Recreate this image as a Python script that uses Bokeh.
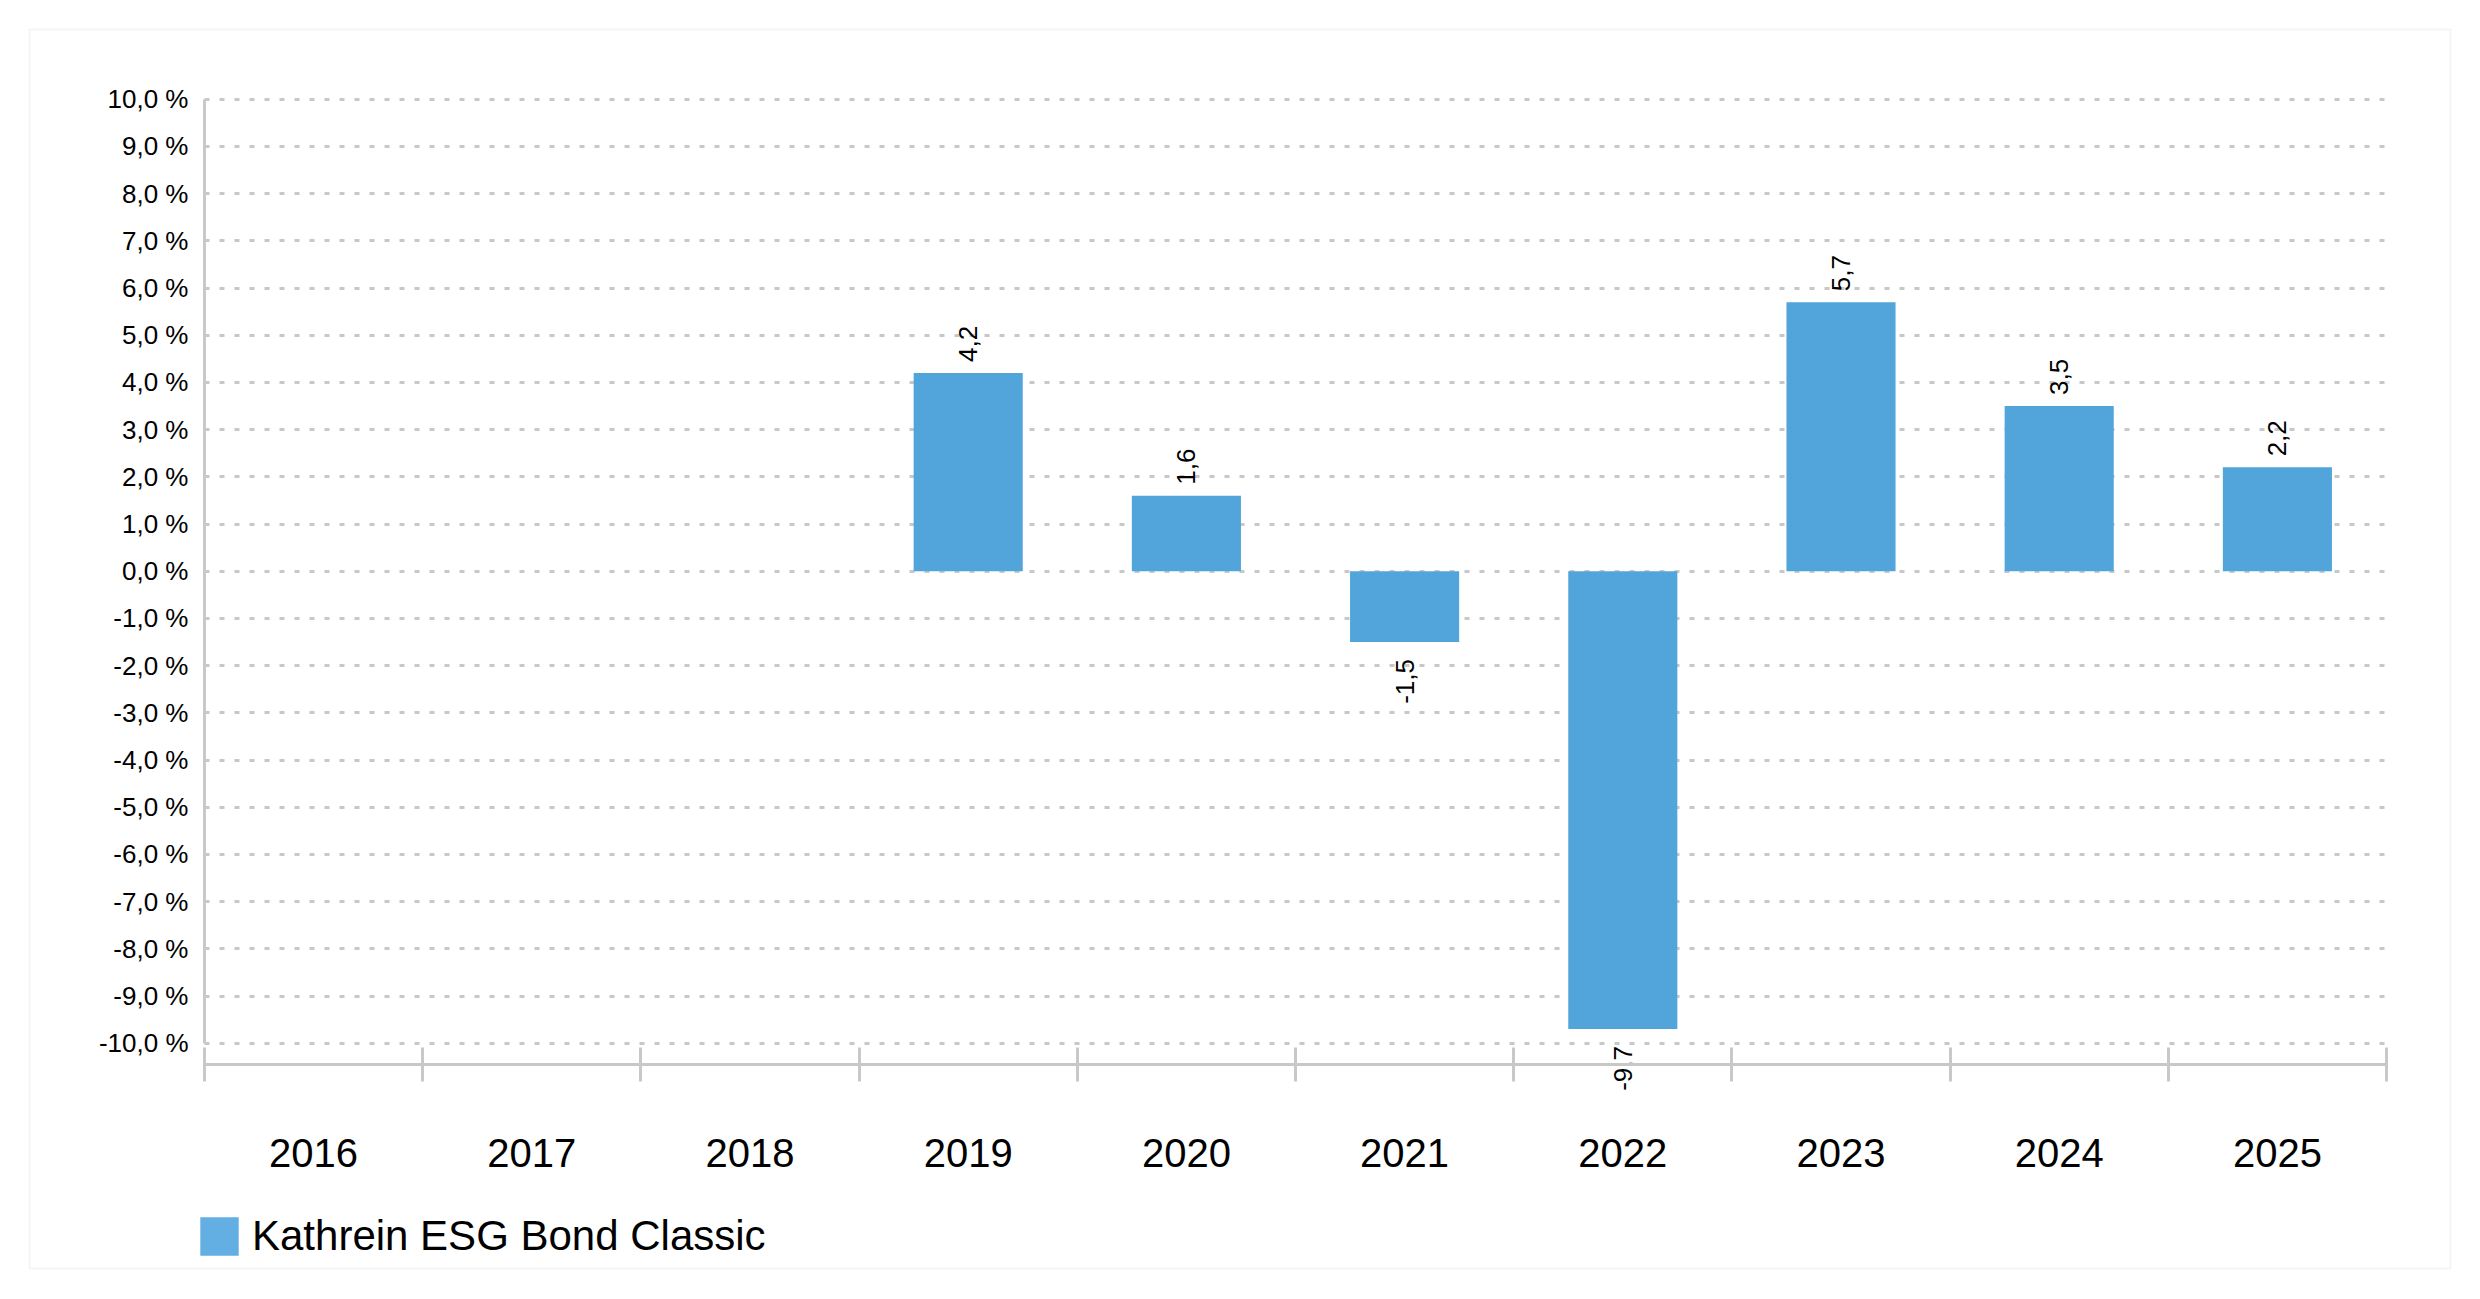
import numpy as np
from bokeh.plotting import figure
from bokeh.models import (ColumnDataSource, Range1d, FixedTicker, CustomJSTickFormatter,
                          BoxAnnotation, Legend, LegendItem)
from bokeh.core.properties import value, field
from bokeh.embed import file_html
from bokeh.resources import INLINE

# ---- data ----
years = ["2016", "2017", "2018", "2019", "2020", "2021", "2022", "2023", "2024", "2025"]
returns = [None, None, None, 4.2, 1.6, -1.5, -9.7, 5.7, 3.5, 2.2]
series_name = "Kathrein ESG Bond Classic"
y_ticks = list(range(-10, 11))

# ---- style / layout (pixels) ----
FONT = "Liberation Sans"
BAR = "#51A5DA"
LEGEND_BAR = "#63AFE3"
GRID = "#C8C8C8"
AXIS = "#C8C8C8"
W, H = 2470, 1290
PLOT_L, PLOT_R = 204, 2386          # pixel x of category 0 and category end
Y0_PX, Y_UNIT = 570.7, 47.2         # pixel y of value 0, pixels per 1 %
N = len(years)
x_unit = (PLOT_R - PLOT_L) / N
x_range = Range1d(-PLOT_L / x_unit, N + (W - PLOT_R) / x_unit)
y_range = Range1d(-(H - Y0_PX) / Y_UNIT, Y0_PX / Y_UNIT)
AXIS_Y = -10.45

idx = [i for i, v in enumerate(returns) if v is not None]
xs = [i + 0.5 for i in idx]
vals = [returns[i] for i in idx]
labels = [f"{v:.1f}".replace(".", ",") for v in vals]
align = ["left" if v >= 0 else "right" for v in vals]
yoff = [-11 if v >= 0 else 17 for v in vals]
src = ColumnDataSource(dict(x=xs, top=vals, label=labels, align=align, yoff=yoff))

p = figure(width=W, height=H, x_range=x_range, y_range=y_range,
           output_backend="svg", toolbar_location=None,
           min_border=0, min_border_left=0, min_border_right=0,
           min_border_top=0, min_border_bottom=0,
           background_fill_color="white", border_fill_color="white")
p.outline_line_color = None

# grid
p.xgrid.visible = False
p.ygrid.ticker = FixedTicker(ticks=y_ticks)
p.ygrid.cross_bounds = (0, N)
p.ygrid.grid_line_color = GRID
p.ygrid.grid_line_dash = "5 10"
p.ygrid.grid_line_width = 3

# bars
p.vbar(x="x", top="top", bottom=0, width=0.5, source=src,
       fill_color=BAR, line_color=None)

# value labels
p.text(x="x", y="top", text="label", source=src, angle=np.pi / 2,
       text_align=field("align"), text_baseline="middle", y_offset=field("yoff"),
       text_font=value(FONT), text_font_size="26px", text_color="black")

# y axis
yax = p.yaxis[0]
yax.fixed_location = 0
yax.ticker = FixedTicker(ticks=y_ticks)
yax.formatter = CustomJSTickFormatter(code="return tick.toFixed(1).replace('.', ',') + ' %';")
yax.bounds = (-10, 10)
yax.axis_line_color = AXIS
yax.axis_line_width = 3
yax.major_tick_line_color = None
yax.minor_tick_line_color = None
yax.major_tick_in = 0
yax.major_tick_out = 0
yax.major_label_standoff = 16
yax.major_label_text_font = FONT
yax.major_label_text_font_size = "26px"
yax.major_label_text_color = "black"

# x axis
xax = p.xaxis[0]
xax.fixed_location = AXIS_Y
xax.bounds = (0, N)
xax.ticker = FixedTicker(ticks=[i + 0.5 for i in range(N)],
                         minor_ticks=list(range(N + 1)))
xax.formatter = CustomJSTickFormatter(args=dict(years=years),
                                      code="return years[Math.floor(tick)];")
xax.axis_line_color = AXIS
xax.axis_line_width = 3
xax.major_tick_line_color = None
xax.major_tick_in = 0
xax.major_tick_out = 0
xax.minor_tick_line_color = AXIS
xax.minor_tick_line_width = 3
xax.minor_tick_in = 17
xax.minor_tick_out = 17
xax.major_label_standoff = 58
xax.major_label_text_font = FONT
xax.major_label_text_font_size = "40px"
xax.major_label_text_color = "black"

# legend (proxy renderer carrying only the legend swatch style, no drawn marks)
legend_src = ColumnDataSource(dict(x=[np.nan], top=[np.nan]))
legend_r = p.vbar(x="x", top="top", width=0.5, source=legend_src,
                  fill_color=LEGEND_BAR, line_color=None)
legend = Legend(items=[LegendItem(label=series_name, renderers=[legend_r])],
                location=(195, 30), orientation="horizontal",
                padding=0, margin=0, spacing=0,
                border_line_color=None, background_fill_alpha=0,
                glyph_width=48, glyph_height=48, label_standoff=9,
                label_height=48,
                label_text_font=FONT, label_text_font_size="42px",
                label_text_color="black")
p.add_layout(legend, "center")

# outer frame box
box = BoxAnnotation(left=29, right=2450, top=29, bottom=1268,
                    left_units="canvas", right_units="canvas",
                    top_units="canvas", bottom_units="canvas",
                    fill_color=None, fill_alpha=0,
                    line_color="#D9D9D9", line_width=2)
p.add_layout(box)

open("out.html", "w").write(file_html(p, INLINE))
